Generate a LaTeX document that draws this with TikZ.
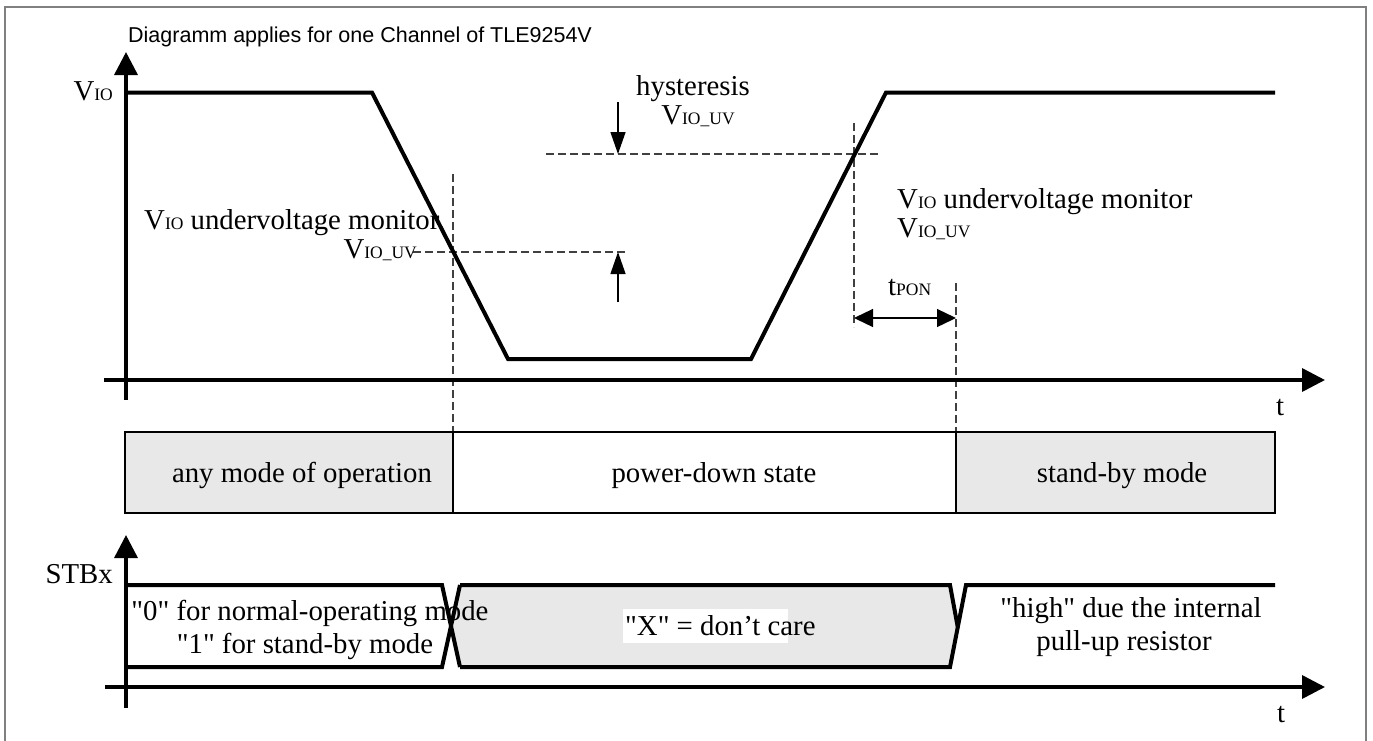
\documentclass[tikz,border=0pt]{standalone}
\usepackage{fontspec}
\setmainfont{Liberation Serif}
\newfontfamily\headfont{Liberation Sans}
\usetikzlibrary{
  arrows.meta,
  positioning,
  backgrounds
}
\newcommand{\lowtxt}[1]{{\fontsize{17.5}{17.5}\selectfont #1}}
\newcommand{\dq}{\XeTeXglyph\XeTeXcharglyph"22\relax}

\begin{document}
\begin{tikzpicture}[
      x=1pt, y=-1pt,
      label/.style={
         inner sep=0pt,
         font=\fontsize{28.8}{33}\selectfont,
      },
      caption/.style={
         inner sep=0pt,
         font=\headfont\fontsize{21.5}{24}\selectfont,
      },
      point/.style={coordinate},
      frame/.style={draw=black!50, line width=2pt},
      axis/.style={line width=3.5pt, -{Triangle[length=23pt,width=23pt]}},
      signal/.style={line width=4pt},
      guide/.style={draw=black!75, line width=1.3pt, dash pattern=on 8pt off 4pt},
      modebox/.style={draw=black, line width=1.5pt},
      shaded/.style={fill=black!9},
      dim/.style={line width=1.3pt},
      tip/.style={-{Triangle[length=22pt,width=15pt]}},
      span/.style={{Triangle[length=19pt,width=18pt]}-{Triangle[length=19pt,width=18pt]}},
    ]
    \useasboundingbox (0,0) rectangle (1373,740);
    \draw[frame] (5,745) -- (5,7) -- (1366,7) -- (1366,745);
    \node (title) [caption, anchor=base west] at (128,42) {Diagramm applies for one Channel of TLE9254V};

    % V_IO plot
    \coordinate (s0) at (126,92.5);
    \coordinate (s1) at (372,92.5);
    \coordinate (s2) at (508,359);
    \coordinate (s3) at (751,359);
    \coordinate (s4) at (886,92.5);
    \coordinate (s5) at (1275,92.5);
    \coordinate (fallx) at (453,252);
    \coordinate (risex) at (854,154);
    \coordinate (ponend) at (956,318);

    \draw[guide] (fallx |- 0,174) -- (fallx |- 0,432);
    \draw[guide] (413,252) -- (628,252);
    \draw[guide] (546,154) -- (881,154);
    \draw[guide] (risex |- 0,123) -- (risex |- 0,327);
    \draw[guide] (ponend |- 0,283) -- (ponend |- 0,432);

    \draw[dim, tip] (618,102) -- (618,154);
    \draw[dim, tip] (618,302) -- (618,252);
    \draw[dim, span] (risex |- ponend) -- (ponend);

    \node (vio) [label, anchor=base east] at (113,100) {V\lowtxt{IO}};
    \node (uvfall) [label, anchor=base west] at (144,229) {V\lowtxt{IO} undervoltage monitor};
    \node (uvfalllvl) [label, anchor=base east] at (417,258) {V\lowtxt{IO\_UV}};
    \node (hyst) [label, anchor=base] at (693,95) {hysteresis};
    \node (hystlvl) [label, anchor=base] at (698,124) {V\lowtxt{IO\_UV}};
    \node (uvrise) [label, anchor=base west] at (897,208) {V\lowtxt{IO} undervoltage monitor};
    \node (uvriselvl) [label, anchor=base west] at (897,237) {V\lowtxt{IO\_UV}};
    \node (tpon) [label, anchor=base west] at (888,295) {t\lowtxt{PON}};

    \draw[signal] (s0) -- (s1) -- (s2) -- (s3) -- (s4) -- (s5);
    \draw[axis] (126,400) -- (126,52);
    \draw[axis] (104,380) -- (1325,380);
    \node (t1) [label, anchor=base] at (1280,415) {t};

    % modes
    \draw[modebox, shaded] (125,432) rectangle (453,513);
    \draw[modebox] (453,432) rectangle (956,513);
    \draw[modebox, shaded] (956,432) rectangle (1275,513);
    \node (anymode) [label, anchor=base] at (302,482) {any mode of operation};
    \node (pdown) [label, anchor=base] at (714,482) {power-down state};
    \node (stby) [label, anchor=base] at (1122,482) {stand-by mode};

    % STBx plot
    \fill[shaded] (460,585) -- (950,585) -- (957.7,626.8) -- (950,667)
       -- (460,667) -- (451,626) -- cycle;
    \fill[white] (623,609) rectangle (788,643);
    \node (dontcare) [label, anchor=base west] at (625,635) {\dq X\dq{} = don’t care};
    \node (sel0) [label, anchor=base] at (310,620) {\dq 0\dq{} for normal-operating mode};
    \node (sel1) [label, anchor=base] at (305,653) {\dq 1\dq{} for stand-by mode};
    \node (high1) [label, anchor=base] at (1131,617) {\dq high\dq{} due the internal};
    \node (high2) [label, anchor=base] at (1124,650) {pull-up resistor};

    \draw[signal] (126,585) -- (442,585) -- (460,667);
    \draw[signal] (126,667) -- (442,667) -- (460,585);
    \draw[signal] (460,585) -- (950,585) -- (957.7,626.8);
    \draw[signal] (460,667) -- (950,667) -- (966,585) -- (1275,585);

    \draw[axis] (126,708) -- (126,535);
    \draw[axis] (105,687) -- (1325,687);
    \node (stbx) [label, anchor=base east] at (113,583) {STBx};
    \node (t2) [label, anchor=base] at (1281,722) {t};
\end{tikzpicture}
\end{document}
